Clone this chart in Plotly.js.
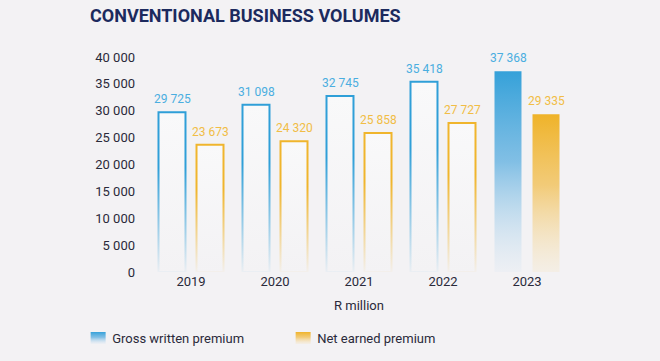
<!DOCTYPE html>
<html>
<head>
<meta charset="utf-8">
<script src="https://cdn.plot.ly/plotly-3.0.1.min.js"></script>
<style>
html,body{margin:0;padding:0;background:#f3f2f4;}
#chart{width:660px;height:361px;}
</style>
</head>
<body>
<div id="chart"></div>
<script>
// ---- data ----
const years = ["2019", "2020", "2021", "2022", "2023"];
const grossWritten = [29725, 31098, 32745, 35418, 37368];
const netEarned = [23673, 24320, 25858, 27727, 29335];
const seriesNames = ["Gross written premium", "Net earned premium"];
const yTicks = [0, 5000, 10000, 15000, 20000, 25000, 30000, 35000, 40000];
const chartTitle = "CONVENTIONAL BUSINESS VOLUMES";
const xTitle = "R million";

// ---- styles ----
const BLUE = "#2f9fd8", YELLOW = "#f0b52c";
const BLUE_LBL = "#4aaee0", YELLOW_LBL = "#f1bd45";
const BG = "#f3f2f4", INNER = "#fafafb";
const FONT = "Roboto, 'Open Sans', sans-serif";
const lastIdx = years.length - 1;
const GAP_SHIFT = 19;

function fillArr(solid){ return years.map((_, i) => i === lastIdx ? solid : INNER); }
function lineArr(solid){ return years.map((_, i) => i === lastIdx ? "rgba(0,0,0,0)" : solid); }
const fmt = v => v.toLocaleString("en-US").replace(/,/g, " ");

const traces = [
  {type:"bar", name:seriesNames[0], x:years, y:grossWritten,
   marker:{color:fillArr(BLUE), line:{color:lineArr(BLUE), width:2}}, hoverinfo:"none"},
  {type:"bar", name:seriesNames[1], x:years, y:netEarned,
   marker:{color:fillArr(YELLOW), line:{color:lineArr(YELLOW), width:2}}, hoverinfo:"none"}
];

const annotations = [];
years.forEach((yr, i) => {
  annotations.push({x:i, y:grossWritten[i], xref:"x", yref:"y", text:fmt(grossWritten[i]),
    showarrow:false, xshift:-GAP_SHIFT, yshift:4, yanchor:"bottom",
    font:{family:FONT, size:12, color:BLUE_LBL}});
  annotations.push({x:i, y:netEarned[i], xref:"x", yref:"y", text:fmt(netEarned[i]),
    showarrow:false, xshift:GAP_SHIFT, yshift:4, yanchor:"bottom",
    font:{family:FONT, size:12, color:YELLOW_LBL}});
});

const layout = {
  width:660, height:361,
  paper_bgcolor:BG, plot_bgcolor:BG,
  margin:{l:149, r:91, t:57, b:89, autoexpand:false},
  separators:". ",
  barmode:"group", bargap:0.095, bargroupgap:0.29,
  font:{family:FONT, size:13, color:"#2a2a3a"},
  title:{text:chartTitle, xref:"container", yref:"container", x:90/660, xanchor:"left",
         y:1-16/361, yanchor:"middle",
         font:{family:FONT, size:18, color:"#1c2a5e", weight:"bold"}},
  xaxis:{type:"category", range:[-0.5, years.length - 0.5], autorange:false,
         showgrid:false, zeroline:false, showline:false, ticks:"",
         tickfont:{size:13, color:"#2a2a3a"},
         title:{text:xTitle, standoff:12, font:{size:13, color:"#2a2a3a"}}},
  yaxis:{range:[0, 40000], autorange:false, tickvals:yTicks, ticktext:yTicks.map(fmt),
         showgrid:false, zeroline:false, showline:false, ticks:"",
         ticklabelstandoff:13, tickfont:{size:13, color:"#2a2a3a"}},
  showlegend:true,
  legend:{orientation:"h", x:-0.183, xanchor:"left", y:-0.237, yanchor:"top",
          bgcolor:"rgba(0,0,0,0)", font:{size:13, color:"#2a2a3a"},
          entrywidth:160, traceorder:"normal"},
  annotations:annotations
};

function addGradients(gd){
  const svg = gd.querySelector(".main-svg");
  const NS = "http://www.w3.org/2000/svg";
  const defs = document.createElementNS(NS, "defs");
  function grad(id, stops){
    const g = document.createElementNS(NS, "linearGradient");
    g.setAttribute("id", id);
    g.setAttribute("x1","0"); g.setAttribute("y1","0");
    g.setAttribute("x2","0"); g.setAttribute("y2","1");
    stops.forEach(s => {
      const st = document.createElementNS(NS, "stop");
      st.setAttribute("offset", s[0]);
      st.setAttribute("stop-color", s[1]);
      st.setAttribute("stop-opacity", s[2]);
      g.appendChild(st);
    });
    defs.appendChild(g);
  }
  grad("blueStroke", [[0, BLUE, 1], [0.35, BLUE, 1], [1, BLUE, 0.04]]);
  grad("yellowStroke", [[0, YELLOW, 1], [0.35, YELLOW, 1], [1, YELLOW, 0.04]]);
  grad("blueFill", [[0, "#35a1d9", 1], [0.45, "#6db6e2", 0.85], [1, "#dfe9f3", 0.3]]);
  grad("yellowFill", [[0, "#efb329", 1], [0.45, "#f2c462", 0.85], [1, "#f6e6c5", 0.3]]);
  grad("innerFill", [[0, "#f9f9fa", 1], [1, BG, 1]]);
  svg.insertBefore(defs, svg.firstChild);

  const sets = [["blueStroke","blueFill"],["yellowStroke","yellowFill"]];
  gd.querySelectorAll(".barlayer .trace").forEach((tr, t) => {
    tr.querySelectorAll(".point path").forEach((p, i) => {
      if (i === lastIdx) { p.style.fill = "url(#" + sets[t][1] + ")"; p.style.stroke = "none"; }
      else { p.style.stroke = "url(#" + sets[t][0] + ")"; p.style.fill = "url(#innerFill)"; }
    });
  });
  gd.querySelectorAll(".legend .traces").forEach((tr, t) => {
    const p = tr.querySelector(".legendpoints path");
    if (p) {
      p.setAttribute("d", "M-7.5,-6H7.5V6H-7.5Z");
      p.setAttribute("transform", "translate(26,0)");
      p.style.fill = "url(#" + sets[t][1] + ")";
      p.style.stroke = "none";
    }
  });
}

const gd = document.getElementById("chart");
Plotly.newPlot(gd, traces, layout, {staticPlot:true, displayModeBar:false}).then(addGradients);
</script>
</body>
</html>
